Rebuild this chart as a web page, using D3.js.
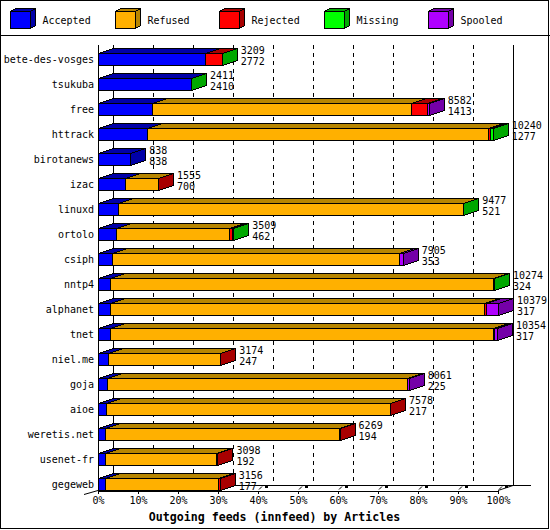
<!DOCTYPE html>
<html><head><meta charset="utf-8">
<script src="https://cdn.jsdelivr.net/npm/d3@7"></script>
<style>
body{margin:0;background:#fff}
svg{display:block}
text{font-family:"DejaVu Sans Mono",monospace;font-size:10px;fill:#000}
</style>
</head><body>
<script>
// ---------- data ----------
const categories=["bete-des-vosges","tsukuba","free","httrack","birotanews","izac","linuxd","ortolo","csiph","nntp4","alphanet","tnet","niel.me","goja","aioe","weretis.net","usenet-fr","gegeweb"];
const seriesNames=["Accepted","Refused","Rejected","Missing","Spooled"];
const accepted=[2772,2410,1413,1277,838,700,521,462,353,324,317,317,247,225,217,194,192,177];
const refused =[0,0,6720,8838,0,854,8955,2945,7465,9917,9707,9940,2919,7785,7360,6068,2862,2945];
const rejected=[436,0,409,65,0,1,0,78,0,0,50,26,8,0,1,7,44,34];
const missing =[1,1,0,60,0,0,1,24,0,33,0,0,0,0,0,0,0,0];
const spooled =[0,0,40,0,0,0,0,0,87,0,305,71,0,51,0,0,0,0];
const tickPercents=[0,10,20,30,40,50,60,70,80,90,100];
const xTitle="Outgoing feeds (innfeed) by Articles";
const frontColors=["#0000ff","#ffb000","#ff0000","#00ff00","#b000ff"];
const darkColors=["#0000a8","#b88600","#a80000","#00a800","#7400a8"];

// ---------- setup ----------
const W=550,H=530,DX=15,DY=5;
const series=[accepted,refused,rejected,missing,spooled];
const totals=categories.map((c,i)=>d3.sum(series,s=>s[i]));
const svg=d3.select("body").append("svg").attr("width",W).attr("height",H).attr("shape-rendering","crispEdges");
const x=d3.scaleLinear().domain([0,d3.max(totals)]).range([98,498]);
const pct=d3.scaleLinear().domain([0,100]).range([98,498]);
const y=d3.scaleBand().domain(categories).range([47,497]).paddingInner(0.5).paddingOuter(0.25);
const r=v=>Math.round(v)+0.5;

// border + separator
svg.append("rect").attr("x",0.5).attr("y",0.5).attr("width",548).attr("height",528).attr("fill","#fff").attr("stroke","#000");
svg.append("line").attr("x1",0).attr("x2",W).attr("y1",35.5).attr("y2",35.5).attr("stroke","#000");

// 3D box helper
function box(g,x0,x1,y0,y1,dx,dy,front,dark){
  g.append("path").attr("d",`M${x0},${y0}L${x0+dx},${y0-dy}L${x1+dx},${y0-dy}L${x1},${y0}Z`).attr("fill",dark).attr("stroke","#000");
  g.append("path").attr("d",`M${x1},${y0}L${x1+dx},${y0-dy}L${x1+dx},${y1-dy}L${x1},${y1}Z`).attr("fill",dark).attr("stroke","#000");
  g.append("rect").attr("x",x0).attr("y",y0).attr("width",Math.max(0,x1-x0)).attr("height",y1-y0).attr("fill",front).attr("stroke","#000");
}

// legend
const leg=svg.append("g");
seriesNames.forEach((n,i)=>{
  const lx=r(10+i*104.5);
  box(leg,lx,lx+20,11.5,28.5,5,3,frontColors[i],darkColors[i]);
  leg.append("text").attr("x",lx+32).attr("y",24).text(n);
});

// back walls, grid
const plotTop=45, backFloor=485.5, frontFloor=490.5;
const grid=svg.append("g").attr("stroke","#000");
tickPercents.filter(t=>t>0&&t<100).forEach(t=>{
  grid.append("line").attr("x1",r(pct(t)+DX)).attr("x2",r(pct(t)+DX)).attr("y1",plotTop).attr("y2",backFloor).attr("stroke-dasharray","4,4");
});
grid.append("line").attr("x1",r(pct(0)+DX)).attr("x2",r(pct(0)+DX)).attr("y1",plotTop).attr("y2",backFloor);
grid.append("line").attr("x1",r(pct(100)+DX)).attr("x2",r(pct(100)+DX)).attr("y1",plotTop).attr("y2",backFloor);
grid.append("line").attr("x1",pct(0)+DX).attr("x2",531).attr("y1",backFloor).attr("y2",backFloor);
grid.append("line").attr("x1",r(pct(0))).attr("x2",r(pct(0))).attr("y1",plotTop).attr("y2",frontFloor);
grid.append("line").attr("x1",84).attr("y1",494.5).attr("x2",pct(0)).attr("y2",frontFloor).attr("shape-rendering","auto");
grid.append("line").attr("x1",pct(100)).attr("y1",frontFloor).attr("x2",pct(100)+DX).attr("y2",backFloor).attr("shape-rendering","auto");
// small depth tick marks
tickPercents.forEach(t=>{
  const f=pct(t);
  grid.append("line").attr("x1",f+1).attr("y1",489.5).attr("x2",f+4).attr("y2",486.5).attr("shape-rendering","auto");
  grid.append("rect").attr("x",f+7).attr("y",485).attr("width",3).attr("height",2.5).attr("fill","#000").attr("stroke","none");
});

// bars
const bars=svg.append("g");
categories.forEach((c,i)=>{
  const y0=r(y(c)), y1=y0+12;
  let cum=0;
  const g=bars.append("g");
  series.forEach((s,k)=>{
    const v=s[i]; if(!v) return;
    const x0=r(x(cum)); cum+=v; const x1=r(x(cum));
    box(g,x0,x1,y0,y1,DX,DY,frontColors[k],darkColors[k]);
  });
  const lx=x(totals[i])+DX+4;
  bars.append("text").attr("x",lx).attr("y",y0+0.5).text(totals[i]);
  bars.append("text").attr("x",lx).attr("y",y1-1).text(accepted[i]);
  bars.append("text").attr("x",94).attr("y",y(c)+y.bandwidth()/2).attr("dy","0.35em").attr("text-anchor","end").text(c);
});

// x axis
const ax=svg.append("g").attr("transform",`translate(0,${frontFloor})`)
  .call(d3.axisBottom(pct).tickValues(tickPercents).tickSize(3).tickSizeOuter(0).tickPadding(3).tickFormat(d=>d+"%"));
ax.selectAll("path,line").attr("stroke","#000");
ax.attr("font-family",null).attr("font-size",null);
ax.selectAll("text").style("font-size","10px");

svg.append("text").attr("x",274.5).attr("y",521).attr("text-anchor","middle").style("font-weight","bold").style("font-size","11.6px").text(xTitle);
</script>
</body></html>
